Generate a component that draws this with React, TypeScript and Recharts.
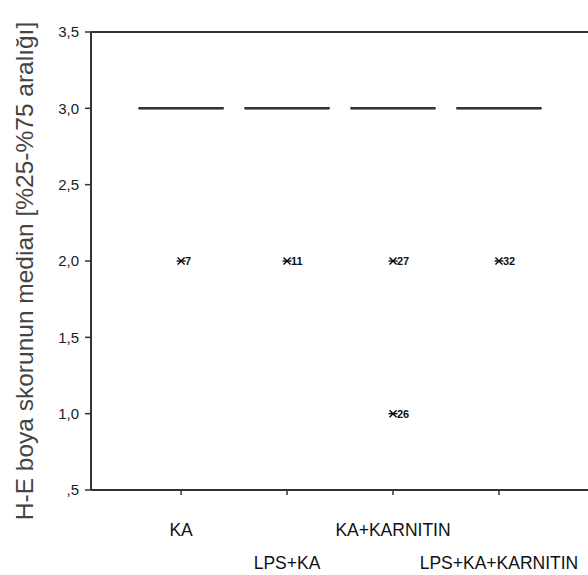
import React from "react";
import {
  ComposedChart,
  XAxis,
  YAxis,
  Scatter,
  ReferenceLine,
} from "recharts";

const categories = ["KA", "LPS+KA", "KA+KARNITIN", "LPS+KA+KARNITIN"];
const groupPositions = [1, 2, 3, 4];
const boxQ1 = [3, 3, 3, 3];
const boxMedian = [3, 3, 3, 3];
const boxQ3 = [3, 3, 3, 3];
const boxHalfWidth = 0.4;

const outlierGroup = [1, 2, 3, 3, 4];
const outlierValue = [2, 2, 2, 1, 2];
const outlierId = ["7", "11", "27", "26", "32"];

const yTicks = [0.5, 1, 1.5, 2, 2.5, 3, 3.5];
const yLabel = "H-E boya skorunun median [%25-%75 aralığı]";

const outliers = outlierGroup.map((g, i) => ({
  x: g,
  y: outlierValue[i],
  id: outlierId[i],
}));

const FONT = "'Liberation Sans', Arial, sans-serif";
const AXIS = "#333";

const fmtY = (v: number) => {
  const s = v.toFixed(1).replace(".", ",");
  return s.startsWith("0") ? s.slice(1) : s;
};

const XTick = (props: any) => {
  const { x, y, payload, index } = props;
  const idx = groupPositions.indexOf(payload.value);
  const dy = index % 2 === 0 ? 46 : 79;
  return (
    <g>
      <line x1={x} x2={x} y1={y - 8} y2={y - 3} stroke={AXIS} strokeWidth={1.5} />
      <text
        x={x}
        y={y - 8 + dy}
        textAnchor="middle"
        fontFamily={FONT}
        fontSize={17.5}
        fill="#111"
      >
        {categories[idx]}
      </text>
    </g>
  );
};

const Asterisk = (props: any) => {
  const { cx, cy, payload } = props;
  if (cx == null || cy == null) return null;
  return (
    <g>
      <line x1={cx - 4.5} x2={cx + 4.5} y1={cy} y2={cy} stroke="#000" strokeWidth={1.3} />
      <line x1={cx - 3.5} x2={cx + 3.5} y1={cy - 3.5} y2={cy + 3.5} stroke="#000" strokeWidth={1.3} />
      <line x1={cx - 3.5} x2={cx + 3.5} y1={cy + 3.5} y2={cy - 3.5} stroke="#000" strokeWidth={1.3} />
      <text
        x={cx + 4}
        y={cy + 4}
        fontFamily={FONT}
        fontSize={11}
        fontWeight="bold"
        fill="#111"
      >
        {payload.id}
      </text>
    </g>
  );
};

const YLabel = (props: any) => {
  const vb = props.viewBox || {};
  const cy = (vb.y ?? 32) + (vb.height ?? 458) / 2 + 10;
  const x = 33;
  return (
    <text
      x={x}
      y={cy}
      transform={`rotate(-90, ${x}, ${cy})`}
      textAnchor="middle"
      fontFamily={FONT}
      fontSize={24.5}
      fill="#444"
    >
      {yLabel}
    </text>
  );
};

export default function App() {
  return (
    <div style={{ position: "absolute", left: 0, top: 0, background: "#fff" }}>
      <ComposedChart
        width={588}
        height={575}
        margin={{ top: 32, right: 0, bottom: 0, left: 0 }}
        data={outliers}
      >
        <XAxis
          dataKey="x"
          type="number"
          domain={[0.15, 4.84]}
          allowDataOverflow
          ticks={groupPositions}
          interval={0}
          height={85}
          axisLine={{ stroke: AXIS, strokeWidth: 2 }}
          tickLine={false}
          tick={<XTick />}
        />
        <YAxis
          dataKey="y"
          type="number"
          domain={[0.5, 3.5]}
          allowDataOverflow
          ticks={yTicks}
          interval={0}
          width={91}
          tickFormatter={fmtY}
          tickSize={6}
          tickMargin={6}
          axisLine={{ stroke: AXIS, strokeWidth: 2 }}
          tickLine={{ stroke: AXIS, strokeWidth: 1.5 }}
          tick={{ fontFamily: FONT, fontSize: 15, fill: "#222" }}
          label={<YLabel />}
        />
        <ReferenceLine y={3.5} stroke={AXIS} strokeWidth={2} />
        {groupPositions.map((g, i) => (
          <ReferenceLine
            key={"q1" + i}
            segment={[
              { x: g - boxHalfWidth, y: boxQ1[i] },
              { x: g + boxHalfWidth, y: boxQ1[i] },
            ]}
            stroke={AXIS}
            strokeWidth={2}
          />
        ))}
        {groupPositions.map((g, i) => (
          <ReferenceLine
            key={"q3" + i}
            segment={[
              { x: g - boxHalfWidth, y: boxQ3[i] },
              { x: g + boxHalfWidth, y: boxQ3[i] },
            ]}
            stroke={AXIS}
            strokeWidth={2}
          />
        ))}
        {groupPositions.map((g, i) => (
          <ReferenceLine
            key={"med" + i}
            segment={[
              { x: g - boxHalfWidth, y: boxMedian[i] },
              { x: g + boxHalfWidth, y: boxMedian[i] },
            ]}
            stroke={AXIS}
            strokeWidth={2}
          />
        ))}
        <Scatter
          data={outliers}
          dataKey="y"
          shape={<Asterisk />}
          isAnimationActive={false}
        />
      </ComposedChart>
    </div>
  );
}
